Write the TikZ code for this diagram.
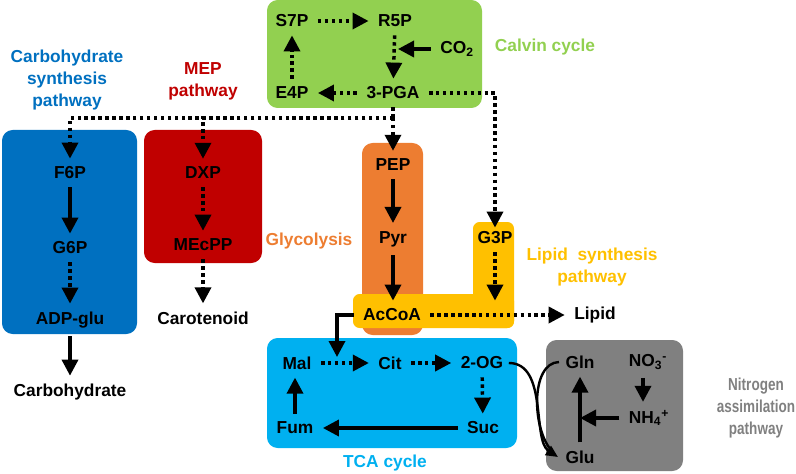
\documentclass[tikz,border=0pt]{standalone}
\usepackage{fontspec}
\setmainfont{Liberation Sans}
\usepackage{tikz}
\usepackage{xcolor}
\usetikzlibrary{arrows.meta, positioning, calc}
\definecolor{cCalvin}{RGB}{146,208,80}
\definecolor{cCarb}{RGB}{0,112,192}
\definecolor{cMEP}{RGB}{192,0,0}
\definecolor{cGly}{RGB}{237,125,49}
\definecolor{cLipid}{RGB}{255,192,0}
\definecolor{cTCA}{RGB}{0,176,240}
\definecolor{cNitro}{RGB}{128,128,128}
\newcommand{\narrow}[1]{\scalebox{0.78}[1]{#1}}
\tikzset{
	met/.style   ={font=\fontsize{13}{15}\selectfont\bfseries, inner xsep=7pt, inner ysep=6pt},
	pwlabel/.style={font=\fontsize{13}{16.5}\selectfont\bfseries, align=center},
	pbox/.style  ={rounded corners=8pt},
	% connectors
	flow/.style  ={-{Triangle[length=12pt,width=12pt]}, line width=2.6pt},
	dflow/.style ={flow, dash pattern=on 2.6pt off 2.6pt},
	dline/.style ={line width=2.6pt, dash pattern=on 2.6pt off 2.6pt},
}

\begin{document}
\begin{tikzpicture}[x=0.75pt, y=-0.75pt]
	\useasboundingbox (0,0) rectangle (796,474);
	% pathway boxes
	\fill[cCalvin, pbox] (267,0) rectangle (482,108);
	\fill[cCarb, pbox] (2,130) rectangle (137,334);
	\fill[cMEP, pbox] (144,130) rectangle (262,263);
	\fill[cGly, pbox] (362,143) rectangle (423,335);
	\fill[cLipid, rounded corners=5pt] (353,294) rectangle (514,328);
	\fill[cLipid, rounded corners=5pt] (473,222) rectangle (514,328);
	\fill[cTCA, pbox] (267,338) rectangle (517,448);
	\fill[cNitro, pbox] (546,340) rectangle (683,471);

	% pathway names
	\node[pwlabel, text=cCalvin] (lCalvin) at (545,47) {Calvin cycle};
	\node[pwlabel, text=cCarb] (lCarb) at (67,80) {Carbohydrate\\synthesis\\pathway};
	\node[pwlabel, text=cMEP] (lMEP) at (203,81) {MEP\\pathway};
	\node[pwlabel, text=cGly] (lGly) at (309,241) {Glycolysis};
	\node[pwlabel, text=cLipid] (lLipid) at (592,267) {Lipid~~synthesis\\pathway};
	\node[pwlabel, text=cTCA] (lTCA) at (385,463) {TCA cycle};
	\node[pwlabel, text=cNitro] (lNitro) at (756,408) {\narrow{Nitrogen}\\\narrow{assimilation}\\\narrow{pathway}};

	% Calvin cycle
	\node[met] (S7P) at (292,21) {S7P};
	\node[met] (R5P) at (395,21) {R5P};
	\node[met] (CO2) at (457,49) {CO\textsubscript{2}};
	\node[met] (E4P) at (292,93) {E4P};
	\node[met] (PGA) at (393,93) {3-PGA};
	\coordinate (co2in) at (398,49);
	\draw[dflow] (S7P) -- (R5P);
	\draw[dflow] (R5P) -- (PGA);
	\draw[dflow] (PGA) -- (E4P);
	\draw[dflow] (E4P) -- (S7P);
	\draw[flow] (CO2) -- (co2in);

	% carbohydrate and MEP
	\node[met] (F6P) at (70,173) {F6P};
	\node[met] (G6P) at (70,248) {G6P};
	\node[met] (ADP) at (70,320) {ADP-glu};
	\node[met] (Carb) at (70,392) {Carbohydrate};
	\node[met] (DXP) at (203,173) {DXP};
	\node[met] (MEcPP) at (203,245) {MEcPP};
	\node[met] (Caro) at (203,318) {Carotenoid};
	\draw[flow] (F6P) -- (G6P);
	\draw[dflow] (G6P) -- (ADP);
	\draw[flow] (ADP) -- (Carb);
	\draw[dflow] (DXP) -- (MEcPP);
	\draw[dflow] (MEcPP) -- (Caro);

	% glycolysis and lipid
	\node[met] (PEP) at (393,165) {PEP};
	\node[met] (Pyr) at (393,239) {Pyr};
	\node[met] (G3P) at (495,238) {G3P};
	\node[met] (AcCoA) at (392,315) {AcCoA};
	\node[met] (Lipid) at (595,315) {Lipid};
	\draw[flow] (PEP) -- (Pyr);
	\draw[flow] (Pyr) -- (Pyr |- AcCoA.north);
	\draw[dflow] (G3P) -- (G3P |- AcCoA.north);
	\draw[dflow] (AcCoA) -- (Lipid);

	% branches from 3-PGA
	\coordinate (br) at (393,118);
	\draw[dline] (PGA) -- (br);
	\draw[dflow] (br) -| (F6P);
	\draw[dflow] (br) -| (DXP);
	\draw[dflow] (br) -- (PEP);
	\draw[dflow, shorten >=-3pt] (PGA) -| (G3P);

	% TCA cycle
	\node[met] (Mal) at (297,363) {Mal};
	\node[met] (Cit) at (390,363) {Cit};
	\node[met] (OG) at (482,363) {2-OG};
	\node[met] (Fum) at (295,428) {Fum};
	\node[met] (Suc) at (483,428) {Suc};
	\coordinate (malin) at (337,357);
	\draw[dflow] (Mal) -- (Cit);
	\draw[dflow] (Cit) -- (OG);
	\draw[dflow] (OG) -- (Suc);
	\draw[flow] (Suc) -- (Fum);
	\draw[flow] (Fum.north) -- (Fum.north |- Mal.south);
	\draw[flow] (AcCoA) -| (malin);

	% nitrogen assimilation
	\node[met] (Gln) at (580,362) {Gln};
	\node[met] (NO3) at (648,362) {NO\textsubscript{3}\textsuperscript{-}};
	\node[met] (NH4) at (649,418) {NH\textsubscript{4}\textsuperscript{+}};
	\node[met] (Glu) at (580,457) {Glu};
	\coordinate (gluin) at (580,418);
	\draw[flow] (Glu.north) -- (Gln.south);
	\draw[flow] ($(NO3.south)+(-5,0)$) -- ($(NH4.north)+(-6,0)$);
	\draw[flow] (NH4) -- (gluin);
	\draw[line width=1.8pt, -{Triangle[length=9pt,width=8pt]}] ($(OG.east)+(-4,0)$) .. controls (548,363) and (532,440) .. ($(Glu.west)+(2,0)$);
	\draw[line width=1.8pt] ($(Gln.west)+(3,0)$) .. controls (530,363) and (532,430) .. ($(Glu.west)+(-4,-6)$);
\end{tikzpicture}
\end{document}
